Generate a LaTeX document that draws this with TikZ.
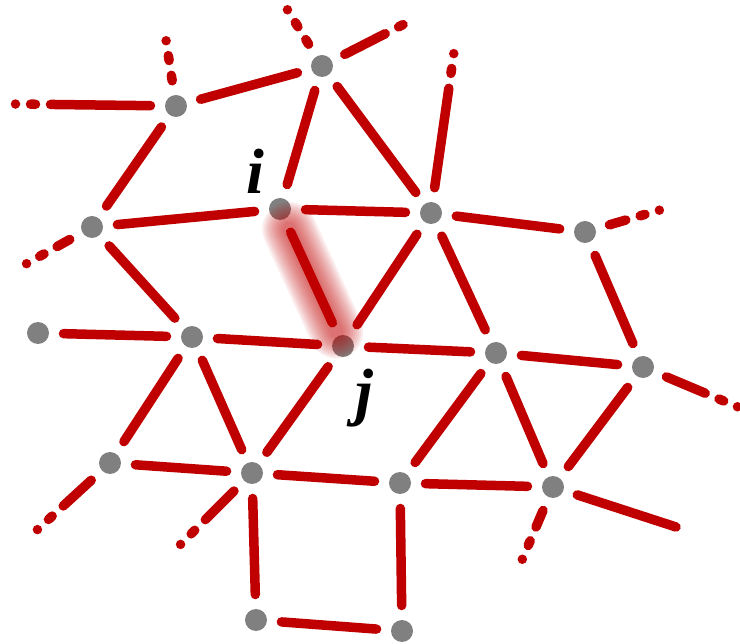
\documentclass[tikz,border=0pt]{standalone}
\usepackage{fontspec}
\setmainfont{Liberation Serif}
\usetikzlibrary{positioning}
\definecolor{bondred}{RGB}{192,0,0}
\definecolor{sitegray}{RGB}{128,128,128}

\begin{document}
\begin{tikzpicture}[
    x=1pt, y=-1pt,
    site/.style={
        circle,
        fill=sitegray,
        minimum size=22pt,
        inner sep=0pt,
        outer sep=0pt
    },
    bond/.style={
        draw=bondred,
        line width=9.5pt,
        line cap=round,
        shorten <=14.5pt,
        shorten >=14.5pt
    },
    openbond/.style={
        bond,
        shorten >=0pt,
        dash pattern=on #1 off 15pt on 5pt off 15pt on 0pt off 300pt
    },
    glow/.style={
        draw=bondred,
        line cap=round,
        opacity=0.07,
        shorten <=22pt,
        shorten >=16pt
    },
    lbl/.style={
        font=\fontsize{64}{64}\selectfont\bfseries\itshape,
        inner sep=0pt
    }
]
\useasboundingbox (0,0) rectangle (740,644);

% ============================================================
% Sites
% ============================================================

\node[site] (A) at (176,106) {};
\node[site] (B) at (322,66) {};
\node[site] (C) at (92,227) {};
\node[site] (I) at (280,209) {};
\node[site] (D) at (431,213) {};
\node[site] (E) at (585,232) {};
\node[site] (F) at (38,333) {};
\node[site] (G) at (192,337) {};
\node[site] (J) at (343,346) {};
\node[site] (K) at (496,353) {};
\node[site] (L) at (643,367) {};
\node[site] (M) at (110,463) {};
\node[site] (N) at (252,473) {};
\node[site] (O) at (400,483) {};
\node[site] (P) at (553,487) {};
\node[site] (Q) at (256,620) {};
\node[site] (R) at (402,631) {};

\node[lbl] (labi) at (255,171) {i};
\node[lbl] (labj) at (364,398) {j};

% free ends
\coordinate (a1) at (14,104);
\coordinate (a2) at (166,40);
\coordinate (b1) at (287,9);
\coordinate (b2) at (416,18);
\coordinate (d1) at (454,52);
\coordinate (c1) at (26,264);
\coordinate (e1) at (660,210);
\coordinate (l1) at (738,407);
\coordinate (m1) at (37,530);
\coordinate (n1) at (180,545);
\coordinate (p1) at (522,560);
\coordinate (p2) at (676,527);

% ============================================================
% Highlighted bond
% ============================================================

\foreach \w in {54,50,...,14}
    \draw[glow, line width=\w pt] (I.center) -- (J.center);

% ============================================================
% Bonds
% ============================================================

\draw[bond] (A) -- (B);
\draw[bond] (A) -- (C);
\draw[bond] (B) -- (I);
\draw[bond] (B) -- (D);
\draw[bond] (C) -- (I);
\draw[bond] (C) -- (G);
\draw[bond] (I) -- (D);
\draw[bond] (I) -- (J);
\draw[bond] (D) -- (J);
\draw[bond] (D) -- (K);
\draw[bond] (D) -- (E);
\draw[bond] (E) -- (L);
\draw[bond] (F) -- (G);
\draw[bond] (G) -- (J);
\draw[bond] (G) -- (M);
\draw[bond] (G) -- (N);
\draw[bond] (J) -- (K);
\draw[bond] (J) -- (N);
\draw[bond] (K) -- (L);
\draw[bond] (K) -- (O);
\draw[bond] (K) -- (P);
\draw[bond] (L) -- (P);
\draw[bond] (M) -- (N);
\draw[bond] (N) -- (O);
\draw[bond] (N) -- (Q);
\draw[bond] (O) -- (P);
\draw[bond] (O) -- (R);
\draw[bond] (Q) -- (R);
\draw[bond, shorten >=0pt] (P) -- (p2);

% open bonds
\draw[openbond=100pt] (A) -- (a1);
\draw[openbond=5.5pt] (A) -- (a2);
\draw[openbond=5.5pt] (B) -- (b1);
\draw[openbond=45.5pt] (B) -- (b2);
\draw[openbond=100.5pt] (D) -- (d1);
\draw[openbond=14.5pt] (C) -- (c1);
\draw[openbond=17pt] (E) -- (e1);
\draw[openbond=42pt] (L) -- (l1);
\draw[openbond=38pt] (M) -- (m1);
\draw[openbond=40.5pt] (N) -- (n1);
\draw[openbond=18pt] (P) -- (p1);

\end{tikzpicture}
\end{document}
